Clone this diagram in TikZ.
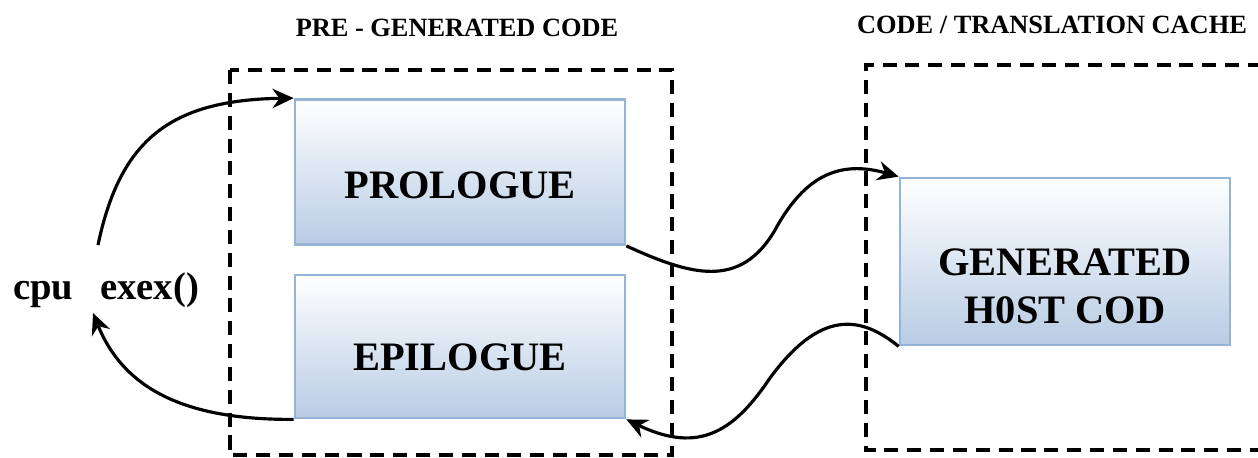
\documentclass[tikz,border=0pt]{standalone}
\usepackage{fontspec}
\setmainfont{Liberation Serif}
\usetikzlibrary{arrows.meta}
\definecolor{boxedge}{RGB}{149,179,215}
\definecolor{boxfill}{RGB}{184,204,228}
\begin{document}
\begin{tikzpicture}[x=0.02cm,y=-0.02cm,
  codebox/.style={draw=boxedge,line width=1.6pt,top color=white,bottom color=boxfill,
    minimum width=6.6cm,inner sep=0pt},
  boxtext/.style={font=\fontsize{23}{27}\selectfont\bfseries,align=center},
  region/.style={line width=2pt,dash pattern=on 8pt off 5pt},
  hdr/.style={font=\fontsize{15}{17}\selectfont\bfseries},
  flow/.style={line width=1.8pt,-{Stealth[length=12pt,width=11pt]}}]
\useasboundingbox (0,0) rectangle (1258,457);
% dashed regions
\draw[region] (230,70) rectangle (672,455);
\draw[region] (1262,65) -- (866,65) -- (866,450) -- (1262,450);
% headers
\node[hdr] (h1) at (457,28) {PRE - GENERATED CODE};
\node[hdr] (h2) at (1052,25) {CODE / TRANSLATION CACHE};
% boxes
\node[codebox,minimum height=2.9cm] (pro) at (460,172) {};
\node[codebox,minimum height=2.86cm] (epi) at (460,346.5) {};
\node[codebox,minimum height=3.34cm] (gen) at (1065,261.5) {};
\node[boxtext] (protext) at ([yshift=-0.26cm]pro.center) {PROLOGUE};
\node[boxtext] (epitext) at ([yshift=-0.22cm]epi.center) {EPILOGUE};
\node[boxtext] (gentext) at ([yshift=-0.5cm]gen.center) {GENERATED\\H0ST COD};
% cpu label
\node[font=\fontsize{22}{24}\selectfont\bfseries] (cpu) at (106,290) {cpu\hspace{0.7em}exex()};
\coordinate (c1) at (98,245);
\coordinate (c2) at (93,313);
% connectors
\draw[flow] (c1) .. controls (120,140) and (170,100) .. (pro.north west);
\draw[flow] (pro.south east) .. controls (690,275) and (740,290) .. (775,230)
  .. controls (805,175) and (840,160) .. (gen.north west);
\draw[flow] (gen.south west) .. controls (860,315) and (820,310) .. (770,378)
  .. controls (735,430) and (700,455) .. (epi.south east);
\draw[flow] (epi.south west) .. controls (190,420) and (125,392) .. (c2);
\end{tikzpicture}
\end{document}
